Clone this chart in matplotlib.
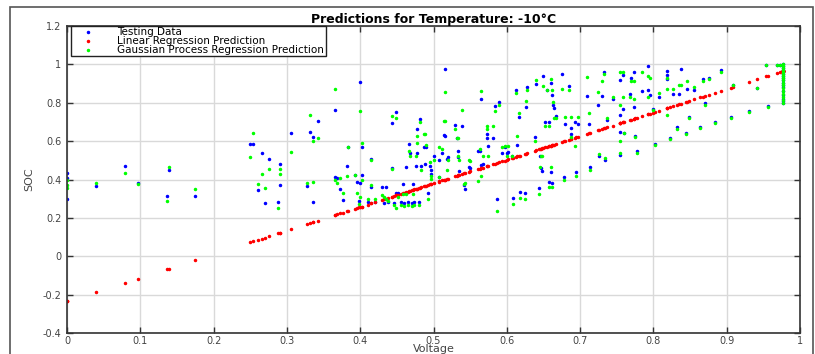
import matplotlib
matplotlib.use("Agg")
import matplotlib.pyplot as plt
from matplotlib.patches import Rectangle
from matplotlib.ticker import FormatStrFormatter

plt.rcParams['font.family'] = ['DejaVu Sans']

# voltage of each test sample (normalised)
voltage = [
    0.000, 0.000, 0.000, 0.040, 0.079, 0.097, 0.136, 0.139, 0.175,
    0.250, 0.254, 0.260, 0.266, 0.270, 0.276, 0.288, 0.290, 0.291, 0.306,
    0.328, 0.332, 0.335, 0.336, 0.342, 0.365, 0.366, 0.369, 0.373, 0.376,
    0.382, 0.384, 0.393, 0.395, 0.398, 0.400, 0.400, 0.402, 0.402,
    0.410, 0.415, 0.415, 0.420, 0.430, 0.432, 0.435, 0.438, 0.443, 0.444,
    0.446, 0.449, 0.449, 0.452, 0.455, 0.458, 0.460, 0.463, 0.465, 0.467,
    0.468, 0.470, 0.472, 0.474, 0.476, 0.477, 0.478, 0.480, 0.482, 0.483,
    0.487, 0.489, 0.490, 0.492, 0.495, 0.496, 0.497, 0.500,
    0.507, 0.508, 0.512, 0.515, 0.516, 0.516, 0.518, 0.520, 0.530, 0.532,
    0.533, 0.534, 0.535, 0.539, 0.542, 0.543, 0.548, 0.550,
    0.561, 0.563, 0.565, 0.565, 0.567, 0.573, 0.573, 0.574, 0.581, 0.584,
    0.587, 0.590, 0.594, 0.597, 0.600, 0.602, 0.607, 0.608, 0.613, 0.614,
    0.616, 0.618, 0.625, 0.626, 0.627,
    0.638, 0.640, 0.644, 0.645, 0.647, 0.648, 0.650, 0.652, 0.655, 0.657,
    0.658, 0.660, 0.660, 0.661, 0.662, 0.663, 0.664, 0.667, 0.675, 0.678,
    0.680, 0.685, 0.687, 0.688, 0.693, 0.695, 0.697,
    0.710, 0.712, 0.713, 0.724, 0.726, 0.730, 0.733, 0.734, 0.737, 0.745,
    0.754, 0.754, 0.754, 0.754, 0.759, 0.759, 0.760, 0.768, 0.770, 0.773,
    0.774, 0.775, 0.778, 0.785, 0.793, 0.793, 0.795, 0.800, 0.802,
    0.808, 0.819, 0.819, 0.819, 0.823, 0.827, 0.832, 0.835, 0.837, 0.845,
    0.846, 0.849, 0.855, 0.864, 0.867, 0.871, 0.876, 0.884, 0.892, 0.906,
    0.909, 0.931, 0.941, 0.953, 0.957, 0.968, 0.973,
    0.977, 0.977, 0.977, 0.977, 0.977, 0.977, 0.977, 0.977, 0.977, 0.977,
    0.977, 0.977, 0.977, 0.977, 0.977, 0.977, 0.977,
]

# measured SOC
soc_test = [
    0.436, 0.410, 0.300, 0.364, 0.471, 0.383, 0.314, 0.448, 0.314,
    0.586, 0.585, 0.345, 0.537, 0.280, 0.505, 0.284, 0.481, 0.369, 0.641,
    0.367, 0.650, 0.620, 0.285, 0.706, 0.764, 0.411, 0.410, 0.350, 0.293,
    0.472, 0.568, 0.424, 0.389, 0.289, 0.910, 0.380, 0.567, 0.424,
    0.284, 0.509, 0.362, 0.284, 0.363, 0.280, 0.363, 0.284, 0.692, 0.459,
    0.280, 0.750, 0.330, 0.330, 0.282, 0.376, 0.280, 0.463, 0.282, 0.584,
    0.540, 0.280, 0.376, 0.284, 0.472, 0.662, 0.538, 0.283, 0.713, 0.472,
    0.568, 0.480, 0.570, 0.330, 0.472, 0.450, 0.430, 0.525,
    0.500, 0.413, 0.540, 0.630, 0.978, 0.629, 0.507, 0.516, 0.683, 0.617,
    0.550, 0.516, 0.446, 0.678, 0.370, 0.353, 0.463, 0.460,
    0.547, 0.547, 0.818, 0.476, 0.481, 0.635, 0.617, 0.573, 0.617, 0.783,
    0.300, 0.802, 0.540, 0.570, 0.540, 0.544, 0.525, 0.303, 0.865, 0.580,
    0.725, 0.333, 0.330, 0.778, 0.880,
    0.624, 0.900, 0.357, 0.525, 0.459, 0.443, 0.938, 0.700, 0.865, 0.700,
    0.387, 0.903, 0.440, 0.383, 0.842, 0.790, 0.772, 0.729, 0.952, 0.415,
    0.690, 0.889, 0.635, 0.670, 0.700, 0.440, 0.690,
    0.833, 0.687, 0.467, 0.787, 0.520, 0.833, 0.960, 0.501, 0.712, 0.820,
    0.917, 0.734, 0.647, 0.530, 0.943, 0.766, 0.640, 0.844, 0.930, 0.961,
    0.776, 0.629, 0.550, 0.860, 0.990, 0.865, 0.840, 0.770, 0.586,
    0.830, 0.964, 0.947, 0.922, 0.615, 0.844, 0.673, 0.844, 0.975, 0.641,
    0.874, 0.725, 0.865, 0.673, 0.926, 0.800, 0.930, 0.699, 0.973, 0.725,
    0.893, 0.755, 0.877, 0.997, 0.783, 0.998, 0.998,
    1.000, 0.990, 0.980, 0.970, 0.960, 0.950, 0.940, 0.930, 0.920, 0.905,
    0.890, 0.880, 0.860, 0.840, 0.820, 0.810, 0.800,
]

# linear regression prediction
soc_lr = [
    -0.235, -0.235, -0.235, -0.186, -0.138, -0.116, -0.068, -0.064, -0.020,
    0.073, 0.077, 0.085, 0.092, 0.097, 0.105, 0.119, 0.122, 0.123, 0.141,
    0.168, 0.173, 0.177, 0.178, 0.186, 0.214, 0.215, 0.219, 0.224, 0.228,
    0.235, 0.237, 0.248, 0.251, 0.255, 0.257, 0.257, 0.259, 0.259,
    0.269, 0.275, 0.275, 0.282, 0.294, 0.296, 0.300, 0.304, 0.310, 0.311,
    0.314, 0.317, 0.317, 0.321, 0.325, 0.328, 0.331, 0.335, 0.337, 0.339,
    0.341, 0.343, 0.346, 0.348, 0.350, 0.352, 0.353, 0.355, 0.358, 0.359,
    0.364, 0.366, 0.368, 0.370, 0.374, 0.375, 0.376, 0.380,
    0.389, 0.390, 0.395, 0.398, 0.400, 0.400, 0.402, 0.405, 0.417, 0.419,
    0.421, 0.422, 0.423, 0.428, 0.432, 0.433, 0.439, 0.442,
    0.455, 0.457, 0.460, 0.460, 0.462, 0.470, 0.470, 0.471, 0.480, 0.483,
    0.487, 0.491, 0.496, 0.499, 0.503, 0.505, 0.512, 0.513, 0.519, 0.520,
    0.523, 0.525, 0.534, 0.535, 0.536,
    0.550, 0.552, 0.557, 0.558, 0.561, 0.562, 0.565, 0.567, 0.571, 0.573,
    0.574, 0.577, 0.577, 0.578, 0.579, 0.580, 0.582, 0.585, 0.595, 0.599,
    0.601, 0.608, 0.610, 0.611, 0.617, 0.620, 0.622,
    0.638, 0.641, 0.642, 0.656, 0.658, 0.663, 0.667, 0.668, 0.672, 0.681,
    0.692, 0.692, 0.692, 0.692, 0.699, 0.699, 0.700, 0.710, 0.712, 0.716,
    0.717, 0.718, 0.722, 0.731, 0.740, 0.740, 0.743, 0.749, 0.751,
    0.759, 0.772, 0.772, 0.772, 0.777, 0.782, 0.788, 0.792, 0.795, 0.804,
    0.806, 0.809, 0.817, 0.828, 0.831, 0.836, 0.842, 0.852, 0.862, 0.879,
    0.883, 0.910, 0.922, 0.937, 0.942, 0.956, 0.962,
    0.967, 0.967, 0.967, 0.967, 0.967, 0.967, 0.967, 0.967, 0.967, 0.967,
    0.967, 0.967, 0.967, 0.967, 0.967, 0.967, 0.967,
]

# gaussian process regression prediction
soc_gpr = [
    0.395, 0.370, 0.358, 0.380, 0.434, 0.375, 0.289, 0.467, 0.350,
    0.518, 0.640, 0.378, 0.430, 0.355, 0.455, 0.252, 0.455, 0.430, 0.544,
    0.380, 0.738, 0.603, 0.385, 0.617, 0.874, 0.400, 0.380, 0.410, 0.330,
    0.420, 0.567, 0.424, 0.330, 0.270, 0.757, 0.310, 0.589, 0.400,
    0.300, 0.500, 0.370, 0.300, 0.320, 0.310, 0.300, 0.290, 0.730, 0.455,
    0.265, 0.720, 0.254, 0.310, 0.265, 0.326, 0.262, 0.326, 0.265, 0.550,
    0.525, 0.263, 0.326, 0.266, 0.525, 0.626, 0.590, 0.268, 0.700, 0.450,
    0.636, 0.636, 0.580, 0.300, 0.490, 0.402, 0.420, 0.500,
    0.568, 0.413, 0.560, 0.704, 0.856, 0.703, 0.451, 0.500, 0.665, 0.617,
    0.615, 0.520, 0.500, 0.760, 0.375, 0.380, 0.500, 0.499,
    0.394, 0.560, 0.863, 0.420, 0.520, 0.664, 0.680, 0.520, 0.680, 0.755,
    0.237, 0.790, 0.570, 0.575, 0.520, 0.575, 0.520, 0.272, 0.850, 0.629,
    0.748, 0.303, 0.300, 0.807, 0.865,
    0.600, 0.917, 0.326, 0.467, 0.523, 0.520, 0.886, 0.680, 0.865, 0.680,
    0.360, 0.926, 0.467, 0.360, 0.865, 0.806, 0.720, 0.720, 0.874, 0.400,
    0.725, 0.865, 0.620, 0.725, 0.575, 0.420, 0.725,
    0.935, 0.748, 0.450, 0.856, 0.533, 0.914, 0.949, 0.510, 0.720, 0.830,
    0.960, 0.790, 0.600, 0.540, 0.960, 0.830, 0.640, 0.830, 0.912, 0.912,
    0.820, 0.620, 0.540, 0.960, 0.940, 0.830, 0.930, 0.764, 0.580,
    0.851, 0.930, 0.870, 0.734, 0.610, 0.870, 0.665, 0.890, 0.890, 0.635,
    0.911, 0.720, 0.880, 0.668, 0.915, 0.790, 0.925, 0.695, 0.958, 0.720,
    0.895, 0.750, 0.879, 0.998, 0.780, 0.998, 0.998,
    1.000, 0.990, 0.980, 0.970, 0.960, 0.950, 0.940, 0.930, 0.920, 0.905,
    0.890, 0.875, 0.860, 0.845, 0.830, 0.815, 0.800,
]

fig = plt.figure(figsize=(8.15, 3.54), dpi=100)
fig.patches.append(Rectangle((10 / 815, -0.1), 803 / 815, 1.1 - 7 / 354,
                             transform=fig.transFigure, fill=False,
                             edgecolor='#555555', linewidth=1.2))
ax = fig.add_axes([67 / 815, 1 - 333 / 354, 733 / 815, 307 / 354])

ms = 3.0
ax.plot(voltage, soc_test, '.', color='#0000ff', markersize=ms, label='Testing Data')
ax.plot(voltage, soc_lr, '.', color='#ff0000', markersize=ms, label='Linear Regression Prediction')
ax.plot(voltage, soc_gpr, '.', color='#00ff00', markersize=ms, label='Gaussian Process Regression Prediction')

ax.set_xlim(0, 1)
ax.set_ylim(-0.4, 1.2)
ax.set_xticks([i / 10 for i in range(11)])
ax.set_yticks([-0.4, -0.2, 0, 0.2, 0.4, 0.6, 0.8, 1.0, 1.2])
ax.xaxis.set_major_formatter(FormatStrFormatter('%g'))
ax.yaxis.set_major_formatter(FormatStrFormatter('%g'))
ax.grid(True, color='#d9d9d9', linewidth=1.0)
ax.set_axisbelow(True)
ax.tick_params(direction='in', top=True, right=True, length=4, width=1,
               labelsize=7, labelcolor='#444444', color='#333333')
ax.tick_params(axis='x', pad=2)
ax.tick_params(axis='y', pad=4)
for s in ax.spines.values():
    s.set_color('#333333')
    s.set_linewidth(1.2)

ax.set_xlabel('Voltage', fontsize=8, color='#444444', labelpad=-1)
ax.set_ylabel('SOC', fontsize=8, color='#444444', labelpad=6)
ax.set_title('Predictions for Temperature: -10°C', fontsize=9, fontweight='bold', pad=2)

leg = ax.legend(loc='upper left', bbox_to_anchor=(0.006, 1.0), borderaxespad=0,
                prop={'size': 7.5}, fancybox=False, edgecolor='#222222', framealpha=1,
                labelspacing=-0.1, borderpad=0.12, handlelength=3.0, handletextpad=1.3,
                markerscale=1.0)
leg.get_frame().set_linewidth(1.0)

fig.savefig('out.png', dpi=100)
